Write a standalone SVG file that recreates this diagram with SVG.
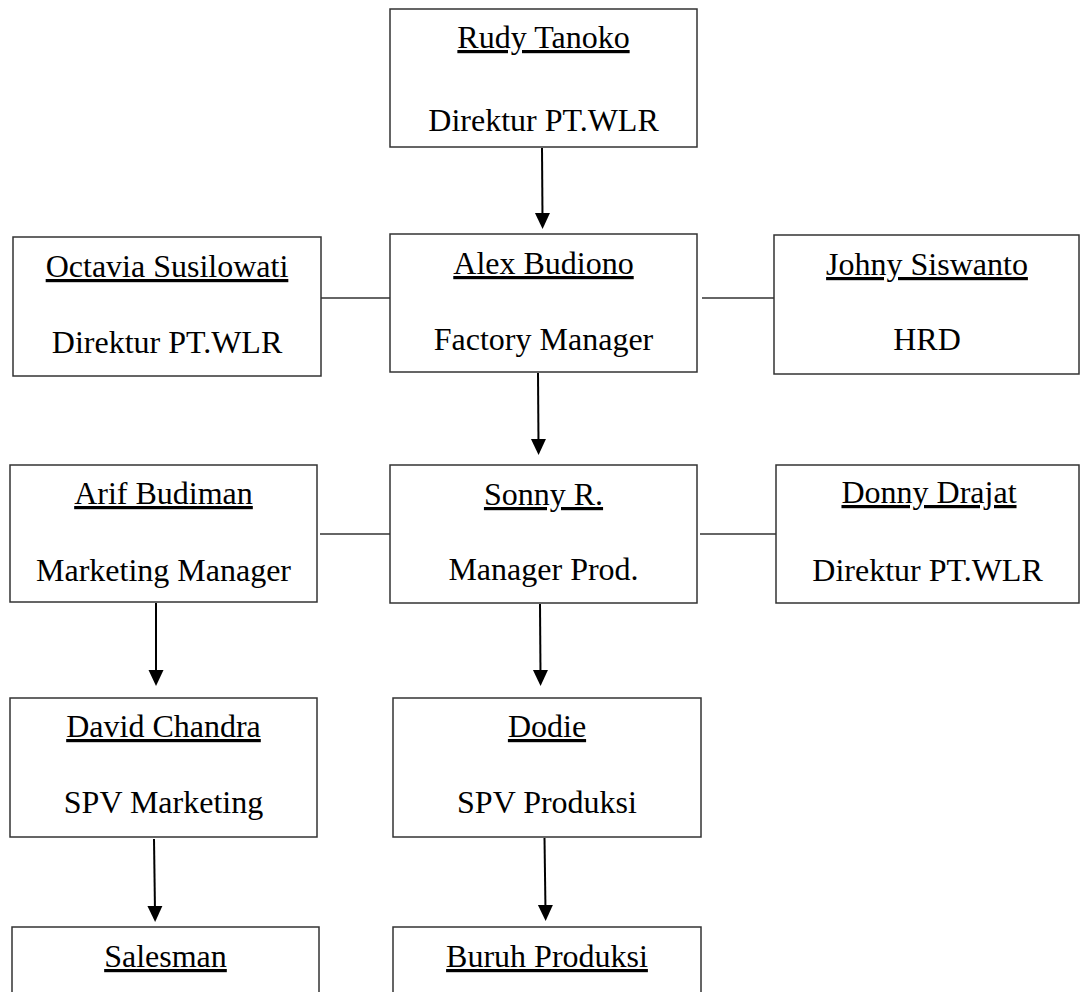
<svg xmlns="http://www.w3.org/2000/svg" width="1080" height="992" viewBox="0 0 1080 992">
<style>
.box{fill:#fff;stroke:#333;stroke-width:1.5}
.t{font-family:"Liberation Serif","Times New Roman",serif;font-size:32px;fill:#000;text-anchor:middle}
.u{text-decoration:underline}
.link{stroke:#333;stroke-width:1.5;fill:none}
.arr{stroke:#000;stroke-width:2;fill:none;marker-end:url(#ah)}
</style>
<defs>
<marker id="ah" markerUnits="userSpaceOnUse" markerWidth="16" markerHeight="16" viewBox="0 0 16 16" refX="6" refY="8" orient="auto">
<path d="M0,0.5 L16,8 L0,15.5 z" fill="#000"/>
</marker>
</defs>
<rect width="1080" height="992" fill="#fff"/>
<g id="connectors">
<line class="arr" x1="542" y1="148" x2="542.5" y2="219"/>
<line class="arr" x1="538" y1="373" x2="538.5" y2="445"/>
<line class="arr" x1="156" y1="603" x2="156" y2="676"/>
<line class="arr" x1="540" y1="604" x2="540.5" y2="676"/>
<line class="arr" x1="154" y1="839" x2="155" y2="912"/>
<line class="arr" x1="544.5" y1="838" x2="545.5" y2="911"/>
<line class="link" x1="320" y1="298" x2="390" y2="298"/>
<line class="link" x1="702" y1="298" x2="774" y2="298"/>
<line class="link" x1="320" y1="534" x2="390" y2="534"/>
<line class="link" x1="700" y1="534" x2="776" y2="534"/>
</g>
<g id="rudy"><rect class="box" x="390" y="9" width="307" height="138"/><text class="t u" x="543.5" y="48">Rudy Tanoko</text><text class="t" x="543.5" y="131">Direktur PT.WLR</text></g>
<g id="octavia"><rect class="box" x="13" y="237" width="308" height="139"/><text class="t u" x="167" y="277">Octavia Susilowati</text><text class="t" x="167" y="353">Direktur PT.WLR</text></g>
<g id="alex"><rect class="box" x="390" y="234" width="307" height="138"/><text class="t u" x="543.5" y="274">Alex Budiono</text><text class="t" x="543.5" y="350">Factory Manager</text></g>
<g id="johny"><rect class="box" x="774" y="235" width="305" height="139"/><text class="t u" x="927" y="275">Johny Siswanto</text><text class="t" x="927" y="350">HRD</text></g>
<g id="arif"><rect class="box" x="10" y="465" width="307" height="137"/><text class="t u" x="163.5" y="504">Arif Budiman</text><text class="t" x="163.5" y="581">Marketing Manager</text></g>
<g id="sonny"><rect class="box" x="390" y="465" width="307" height="138"/><text class="t u" x="543.5" y="505">Sonny R.</text><text class="t" x="543.5" y="580">Manager Prod.</text></g>
<g id="donny"><rect class="box" x="776" y="465" width="303" height="138"/><text class="t u" x="929" y="503">Donny Drajat</text><text class="t" x="927.5" y="581">Direktur PT.WLR</text></g>
<g id="david"><rect class="box" x="10" y="698" width="307" height="139"/><text class="t u" x="163.5" y="737">David Chandra</text><text class="t" x="163.5" y="813">SPV Marketing</text></g>
<g id="dodie"><rect class="box" x="393" y="698" width="308" height="139"/><text class="t u" x="547" y="737">Dodie</text><text class="t" x="547" y="813">SPV Produksi</text></g>
<g id="salesman"><rect class="box" x="12" y="927" width="307" height="80"/><text class="t u" x="165.5" y="967">Salesman</text></g>
<g id="buruh"><rect class="box" x="393" y="927" width="308" height="80"/><text class="t u" x="547" y="967">Buruh Produksi</text></g>
</svg>
